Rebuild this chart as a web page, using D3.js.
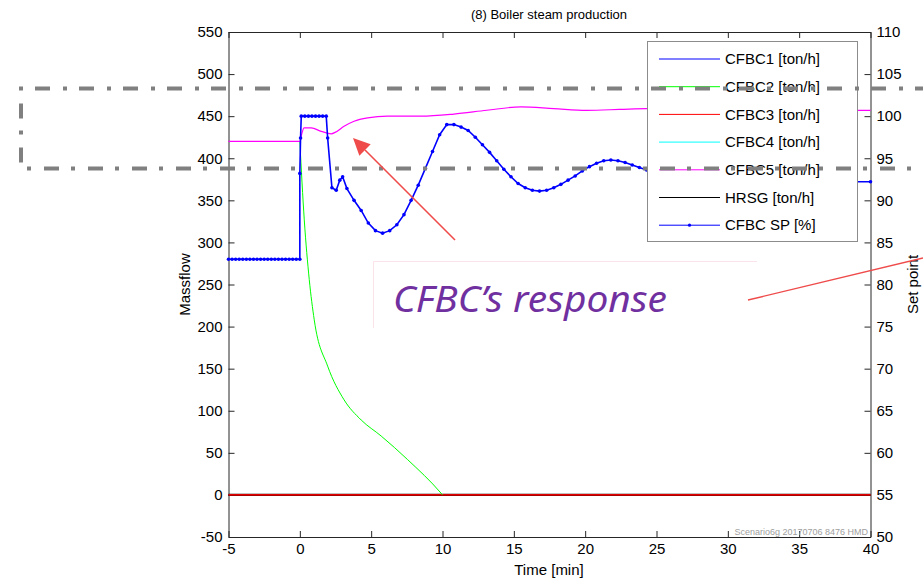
<!DOCTYPE html>
<html>
<head>
<meta charset="utf-8">
<script src="https://cdn.jsdelivr.net/npm/d3@7"></script>
<style>
  body { margin: 0; background: #fff; }
  svg { display: block; font-family: "Liberation Sans", Arial, sans-serif; }
</style>
</head>
<body>
<div id="chart"></div>
<script>
// Tick labels
const xTicks = [-5, 0, 5, 10, 15, 20, 25, 30, 35, 40];
const leftTicks = [-50, 0, 50, 100, 150, 200, 250, 300, 350, 400, 450, 500, 550];
const rightTicks = [50, 55, 60, 65, 70, 75, 80, 85, 90, 95, 100, 105, 110];

// Legend entries
const legendNames = ['CFBC1 [ton/h]', 'CFBC2 [ton/h]', 'CFBC3 [ton/h]', 'CFBC4 [ton/h]', 'CFBC5 [ton/h]', 'HRSG [ton/h]', 'CFBC SP [%]'];
const legendColors = ['#0000ff', '#00ff00', '#ff0000', '#00ffff', '#ff00ff', '#000000', '#0000ff'];

// Zero flows (CFBC1, CFBC3, CFBC4, HRSG)
const zeroTime = [-5, 40];
const zeroFlow = [0, 0];

// CFBC2 [ton/h] (before t=0 it sits under CFBC5)
const cfbc2Time = [0, 0.31, 0.66, 1.01, 1.95, 3.1, 4.3, 5.7, 7.55, 9.9, 10];
const cfbc2Flow = [420, 327, 256, 208, 153, 113, 89, 70, 42, 2, 0];

// CFBC5 [ton/h]
const cfbc5Time = [-5, 0, 0.15, 0.3, 0.8, 1.5, 2.2, 2.5, 3.1, 3.8, 4.75, 6.15, 8.5, 10.8, 13.1, 15.5, 17.8, 20.1, 22.4, 24.3, 28, 32, 36, 40];
const cfbc5Flow = [420, 420, 430, 436, 436, 432, 429, 431, 438, 444, 448, 450, 450, 452.5, 457, 461, 459, 457, 458, 459, 458, 457, 457, 457];

// CFBC SP [%] (right axis)
const spTime = [
  -5, -4.75, -4.5, -4.25, -4, -3.75, -3.5, -3.25, -3, -2.75, -2.5, -2.25, -2, -1.75, -1.5, -1.25, -1, -0.75, -0.5, -0.25, 0,
  0, 0.05, 0.1, 0.35, 0.6, 0.85, 1.1, 1.35, 1.6, 1.85,
  1.95, 2.25, 2.55, 2.8, 3.0, 3.3, 3.8, 4.3, 4.8, 5.3, 5.8, 6.3, 6.8, 7.3, 7.8, 8.3, 8.8, 9.3, 9.8,
  10.3, 10.8, 11.3, 11.8, 12.3, 12.8, 13.3, 13.8, 14.3, 14.8, 15.3, 15.8, 16.3, 16.8, 17.3, 17.8,
  18.3, 18.8, 19.3, 19.8, 20.3, 20.8, 21.3, 21.8, 22.3, 22.8, 23.3, 23.8, 24.3,
  25, 26, 27, 28, 29, 30, 31, 32, 33, 34, 35, 36, 37, 38, 39, 40
];
const spValue = [
  83, 83, 83, 83, 83, 83, 83, 83, 83, 83, 83, 83, 83, 83, 83, 83, 83, 83, 83, 83, 83,
  93.2, 97.4, 100, 100, 100, 100, 100, 100, 100, 100,
  97.4, 91.5, 91.2, 92.4, 92.8, 91.4, 90.0, 88.8, 87.3, 86.4, 86.1, 86.4, 87.1, 88.3, 90.0, 91.8, 93.8, 95.8, 97.8,
  99.0, 99.0, 98.7, 98.3, 97.5, 96.6, 95.7, 94.7, 93.7, 92.8, 92.0, 91.5, 91.2, 91.1, 91.2, 91.5,
  91.9, 92.4, 92.9, 93.5, 94.0, 94.4, 94.7, 94.8, 94.7, 94.5, 94.2, 93.9, 93.6,
  93.1, 92.5, 92.1, 91.9, 91.9, 92.0, 92.3, 92.5, 92.6, 92.6, 92.5, 92.4, 92.3, 92.2, 92.2, 92.2
];

// Page size and scales
const width = 923, height = 584;
const x = d3.scaleLinear().domain([-5, 40]).range([228.5, 870.5]);
const yL = d3.scaleLinear().domain([-50, 550]).range([537, 32]);
const yR = d3.scaleLinear().domain([50, 110]).range([537, 32]);

const svg = d3.select('#chart').append('svg')
    .attr('width', width)
    .attr('height', height);

// Title
svg.append('text')
    .attr('x', 549).attr('y', 19)
    .attr('text-anchor', 'middle')
    .attr('font-size', 13)
    .text('(8) Boiler steam production');

// Axes (inward ticks, matlab style, plain hyphen minus)
const plain = d => String(d);

function styleAxis(g) {
    g.select('.domain').attr('stroke', '#262626');
    g.selectAll('.tick line').attr('stroke', '#262626');
    g.selectAll('.tick text').attr('fill', '#000').attr('font-size', 15)
        .attr('font-family', '"Liberation Sans", Arial, sans-serif');
}

svg.append('g')
    .attr('transform', 'translate(0,537)')
    .call(d3.axisBottom(x).tickValues(xTicks).tickFormat(plain).tickSizeInner(-6).tickSizeOuter(0).tickPadding(6))
    .call(styleAxis);

svg.append('g')
    .attr('transform', 'translate(0,32)')
    .call(d3.axisTop(x).tickValues(xTicks).tickSizeInner(-6).tickSizeOuter(0).tickFormat(''))
    .call(styleAxis);

svg.append('g')
    .attr('transform', 'translate(228.5,0)')
    .call(d3.axisLeft(yL).tickValues(leftTicks).tickFormat(plain).tickSizeInner(-6).tickSizeOuter(0).tickPadding(6))
    .call(styleAxis);

svg.append('g')
    .attr('transform', 'translate(870.5,0)')
    .call(d3.axisRight(yR).tickValues(rightTicks).tickFormat(plain).tickSizeInner(-6).tickSizeOuter(0).tickPadding(6))
    .call(styleAxis);

// Axis labels
svg.append('text')
    .attr('x', 549).attr('y', 575)
    .attr('text-anchor', 'middle')
    .attr('font-size', 15)
    .text('Time [min]');

svg.append('text')
    .attr('transform', 'translate(185,284.5) rotate(-90)')
    .attr('dy', '0.35em')
    .attr('text-anchor', 'middle')
    .attr('font-size', 15)
    .text('Massflow');

svg.append('text')
    .attr('transform', 'translate(913,284.5) rotate(-90)')
    .attr('dy', '0.35em')
    .attr('text-anchor', 'middle')
    .attr('font-size', 15)
    .text('Set point');

// Watermark
svg.append('text')
    .attr('x', 868).attr('y', 535)
    .attr('text-anchor', 'end')
    .attr('font-size', 9)
    .attr('fill', '#a0a0a0')
    .text('Scenario6g 20170706 8476 HMD');

// Lines
const flowLine = d3.line()
    .x(d => x(d[0]))
    .y(d => yL(d[1]))
    .curve(d3.curveMonotoneX);

const spLine = d3.line()
    .x(d => x(d[0]))
    .y(d => yR(d[1]));

const zeroData = d3.zip(zeroTime, zeroFlow);
svg.append('path')
    .attr('d', flowLine(zeroData))
    .attr('fill', 'none')
    .attr('stroke', '#000')
    .attr('stroke-width', 2.4);
svg.append('path')
    .attr('d', flowLine(zeroData))
    .attr('fill', 'none')
    .attr('stroke', '#e00000')
    .attr('stroke-width', 1.6);

svg.append('path')
    .attr('d', flowLine(d3.zip(cfbc2Time, cfbc2Flow)))
    .attr('fill', 'none')
    .attr('stroke', '#00ff00')
    .attr('stroke-width', 1);

svg.append('path')
    .attr('d', flowLine(d3.zip(cfbc5Time, cfbc5Flow)))
    .attr('fill', 'none')
    .attr('stroke', '#ff00ff')
    .attr('stroke-width', 1.2);

const spData = d3.zip(spTime, spValue);
svg.append('path')
    .attr('d', spLine(spData))
    .attr('fill', 'none')
    .attr('stroke', '#0000ff')
    .attr('stroke-width', 1.6);

svg.append('g')
    .selectAll('circle')
    .data(spData)
    .join('circle')
    .attr('cx', d => x(d[0]))
    .attr('cy', d => yR(d[1]))
    .attr('r', 1.8)
    .attr('fill', '#0000ff');

// Legend
const legend = svg.append('g');
legend.append('rect')
    .attr('x', 647.5).attr('y', 41.5)
    .attr('width', 210).attr('height', 200)
    .attr('fill', '#fff')
    .attr('stroke', '#8c8c8c');

const rows = legend.selectAll('g.row')
    .data(legendNames)
    .join('g')
    .attr('class', 'row')
    .attr('transform', (d, i) => `translate(0,${59 + i * 27.7})`);

rows.append('line')
    .attr('x1', 659).attr('x2', 720)
    .attr('stroke', (d, i) => legendColors[i])
    .attr('stroke-width', 1);

rows.filter((d, i) => i === legendNames.length - 1)
    .append('circle')
    .attr('cx', 689.5).attr('r', 1.6)
    .attr('fill', '#0000ff');

rows.append('text')
    .attr('x', 725)
    .attr('dy', '0.35em')
    .attr('font-size', 15)
    .text(d => d);

// Slide overlay: dash-dot frame, arrows and callout text
svg.append('path')
    .attr('d', 'M930,88.5 H21 V168.5 H930')
    .attr('fill', 'none')
    .attr('stroke', '#808080')
    .attr('stroke-width', 4)
    .attr('stroke-dasharray', '15,12,4,13');

function arrow(x1, y1, x2, y2) {
    const a = Math.atan2(y2 - y1, x2 - x1);
    const len = 17, half = 8;
    const bx = x2 - len * Math.cos(a), by = y2 - len * Math.sin(a);
    svg.append('line')
        .attr('x1', x1).attr('y1', y1).attr('x2', bx).attr('y2', by)
        .attr('stroke', '#ef4b4b').attr('stroke-width', 1.6);
    svg.append('path')
        .attr('d', `M${x2},${y2} L${bx + half * Math.sin(a)},${by - half * Math.cos(a)} L${bx - half * Math.sin(a)},${by + half * Math.cos(a)} Z`)
        .attr('fill', '#ef4b4b');
}
arrow(455, 240, 353, 138);

svg.append('line')
    .attr('x1', 748).attr('y1', 300).attr('x2', 923).attr('y2', 258)
    .attr('stroke', '#ef4b4b').attr('stroke-width', 1.4);

svg.append('path')
    .attr('d', 'M373.5,328 V261.5 H757')
    .attr('fill', 'none')
    .attr('stroke', '#fbe3ea')
    .attr('stroke-width', 1);

svg.append('text')
    .attr('x', 393).attr('y', 312)
    .attr('font-family', '"Noto Sans", "Open Sans", sans-serif')
    .attr('font-style', 'italic')
    .attr('font-size', 36)
    .attr('fill', '#7030a0')
    .attr('textLength', 274)
    .attr('lengthAdjust', 'spacingAndGlyphs')
    .text('CFBC’s response');
</script>
</body>
</html>
